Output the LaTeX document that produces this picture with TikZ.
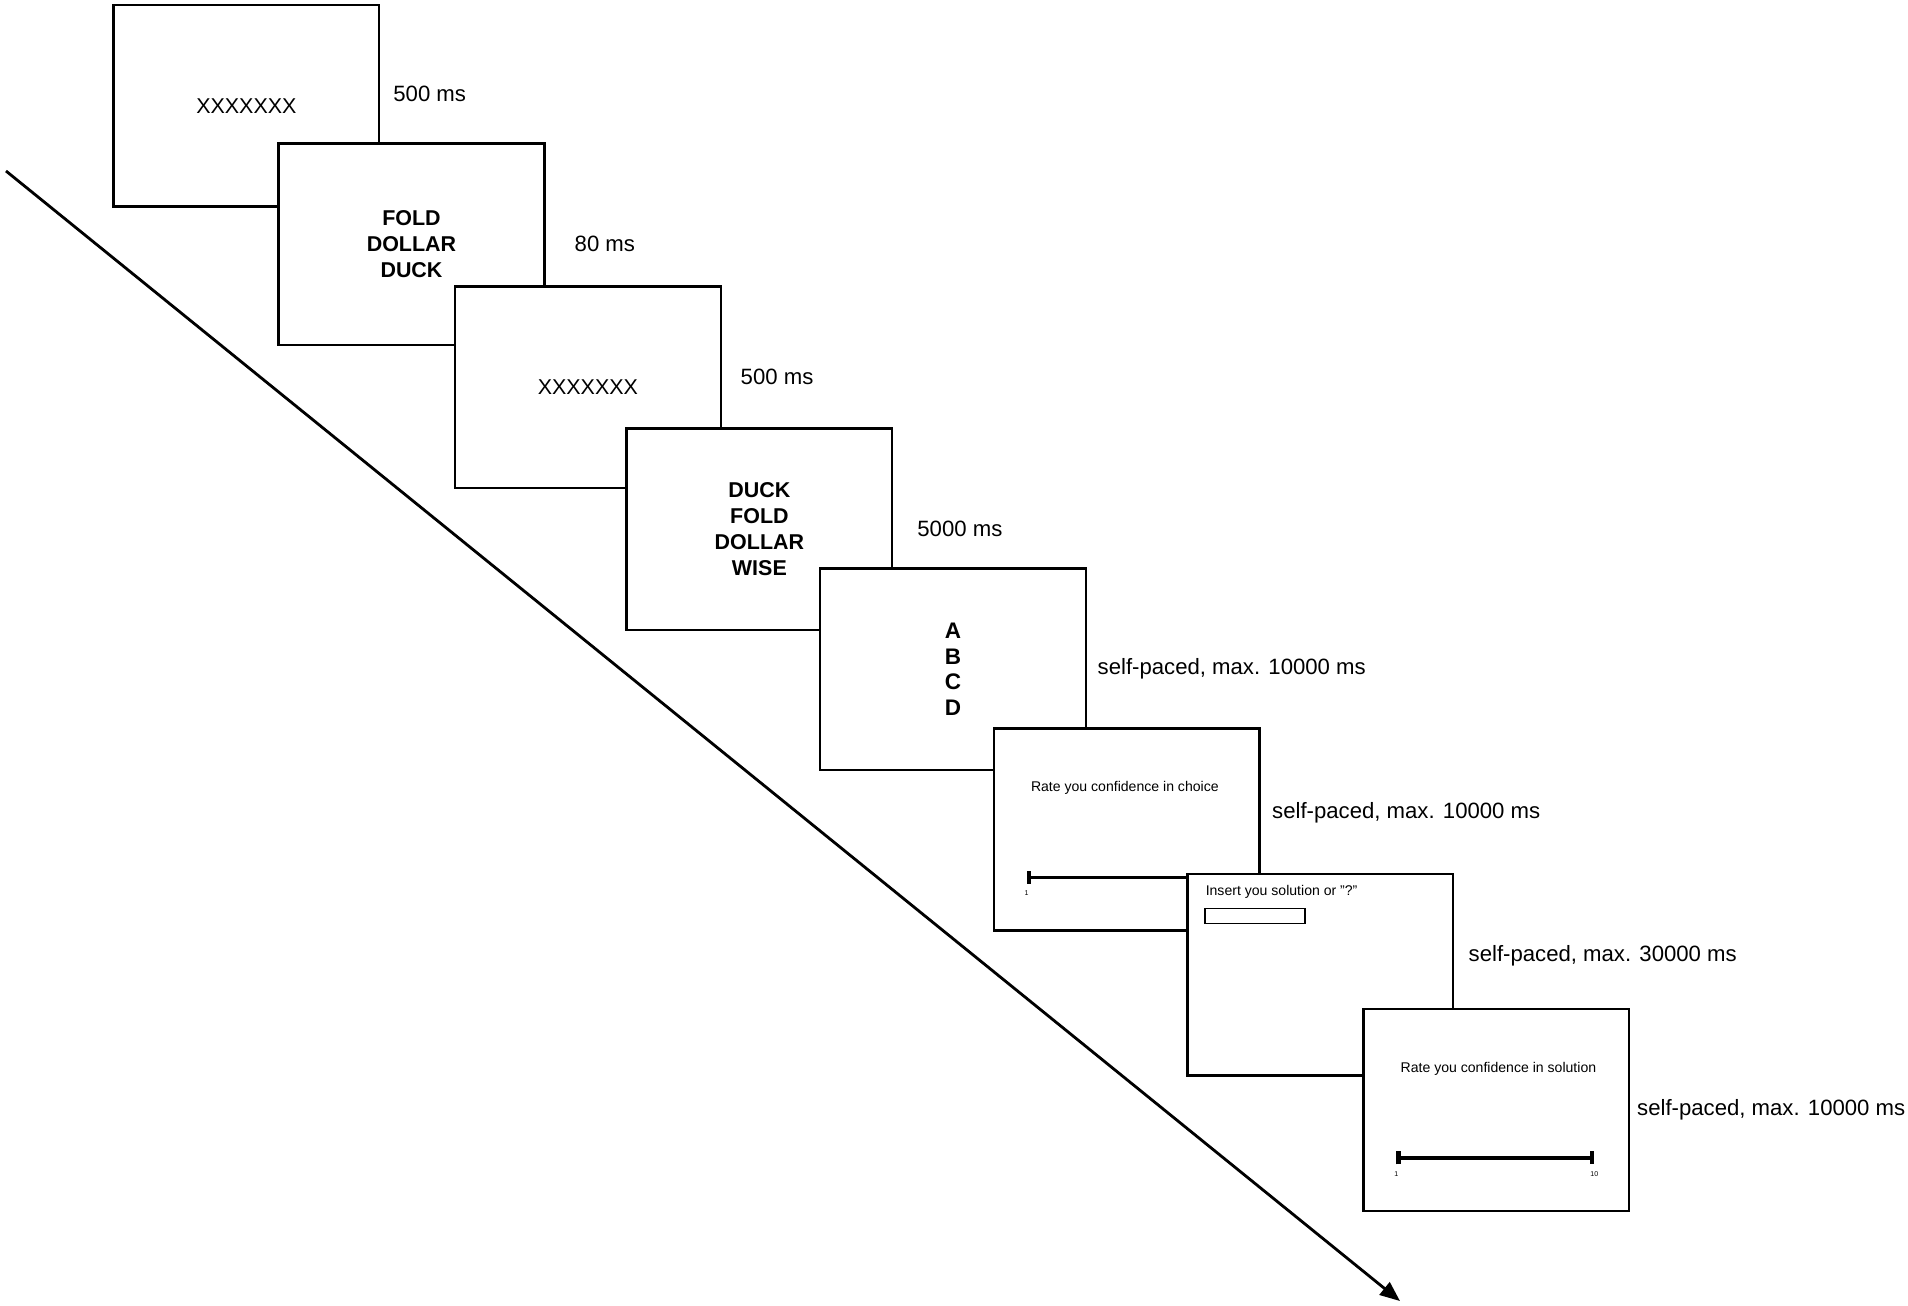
\documentclass[tikz,border=0pt]{standalone}
\usepackage{fontspec}
\setmainfont{Liberation Sans}
\usetikzlibrary{arrows.meta}

\begin{document}
\begin{tikzpicture}[x=0.01cm,y=-0.01cm]
  \tikzstyle{screen}=[rectangle,draw=black,line width=0.7pt,fill=white,minimum width=2.655cm,minimum height=2.015cm,inner sep=0pt,align=center,font=\fontsize{6.1}{7.45}\selectfont\bfseries]
  \tikzstyle{dur}=[anchor=base west,inner sep=0pt,font=\fontsize{6.3}{7.5}\selectfont]
  \tikzstyle{prompt}=[inner sep=0pt,font=\fontsize{4}{5}\selectfont]
  \tikzstyle{tick}=[inner sep=0pt,font=\fontsize{2}{2.4}\selectfont]
  \tikzstyle{scalebar}=[line width=0.95pt]

  \useasboundingbox (0,0) rectangle (1908,1305);

  % time axis
  \coordinate (t0) at (6,171);
  \coordinate (t1) at (1400,1301);
  \draw[line width=0.8pt,-{Triangle[length=0.2cm,width=0.16cm]}] (t0) -- (t1);

  % screens
  \node[screen,font=\fontsize{6.1}{7.45}\selectfont] (s1) at (246.4,105.9) {XXXXXXX};
  \node[screen] (s2) at (411.5,244.3) {FOLD\\DOLLAR\\DUCK};
  \node[screen,font=\fontsize{6.1}{7.45}\selectfont] (s3) at (587.9,387.3) {XXXXXXX};
  \node[screen] (s4) at (759.4,529.2) {DUCK\\FOLD\\DOLLAR\\WISE};
  \node[screen,font=\fontsize{6.4}{7.25}\selectfont\bfseries] (s5) at (952.9,669.2) {A\\B\\C\\D};

  \node[screen] (s6) at (1126.7,829.5) {};
  \node[prompt] (q6) at ([shift={(132.2,60.3)}]s6.north west) {Rate you confidence in choice};
  \coordinate (a6) at ([shift={(34,150)}]s6.north west);
  \coordinate (b6) at ([shift={(232,150)}]s6.north west);
  \draw[scalebar,{Bar[width=0.13cm,line width=1.3pt]}-] (a6) -- (b6);
  \node[tick] at ([shift={(0,16)}]a6) {1};

  \node[screen] (s7) at (1320.4,974.7) {};
  \node[prompt,anchor=west] (q7) at ([shift={(18.7,19.3)}]s7.north west) {Insert you solution or "?"};
  \node[draw,line width=0.45pt,minimum width=1.0cm,minimum height=0.15cm,inner sep=0pt,anchor=north west] (in7) at ([shift={(18,35)}]s7.north west) {};

  \node[screen] (s8) at (1496.3,1110) {};
  \node[prompt] (q8) at ([shift={(136.2,60.7)}]s8.north west) {Rate you confidence in solution};
  \coordinate (a8) at ([shift={(34,150)}]s8.north west);
  \coordinate (b8) at ([shift={(232,150)}]s8.north west);
  \draw[scalebar,{Bar[width=0.13cm,line width=1.3pt]}-{Bar[width=0.13cm,line width=1.3pt]}] (a8) -- (b8);
  \node[tick] at ([shift={(0,16)}]a8) {1};
  \node[tick] at ([shift={(0,16)}]b8) {10};

  % durations
  \node[dur] (d1) at (392.7,101.7) {500 ms};
  \node[dur] (d2) at (574,251.7) {80 ms};
  \node[dur] (d3) at (740,384) {500 ms};
  \node[dur] (d4) at (916.7,536.7) {5000 ms};
  \node[dur] (d5) at (1097,674) {self-paced, max. 10000 ms};
  \node[dur] (d6) at (1271.5,818.5) {self-paced, max. 10000 ms};
  \node[dur] (d7) at (1468,961) {self-paced, max. 30000 ms};
  \node[dur] (d8) at (1636.5,1115) {self-paced, max. 10000 ms};
\end{tikzpicture}
\end{document}
